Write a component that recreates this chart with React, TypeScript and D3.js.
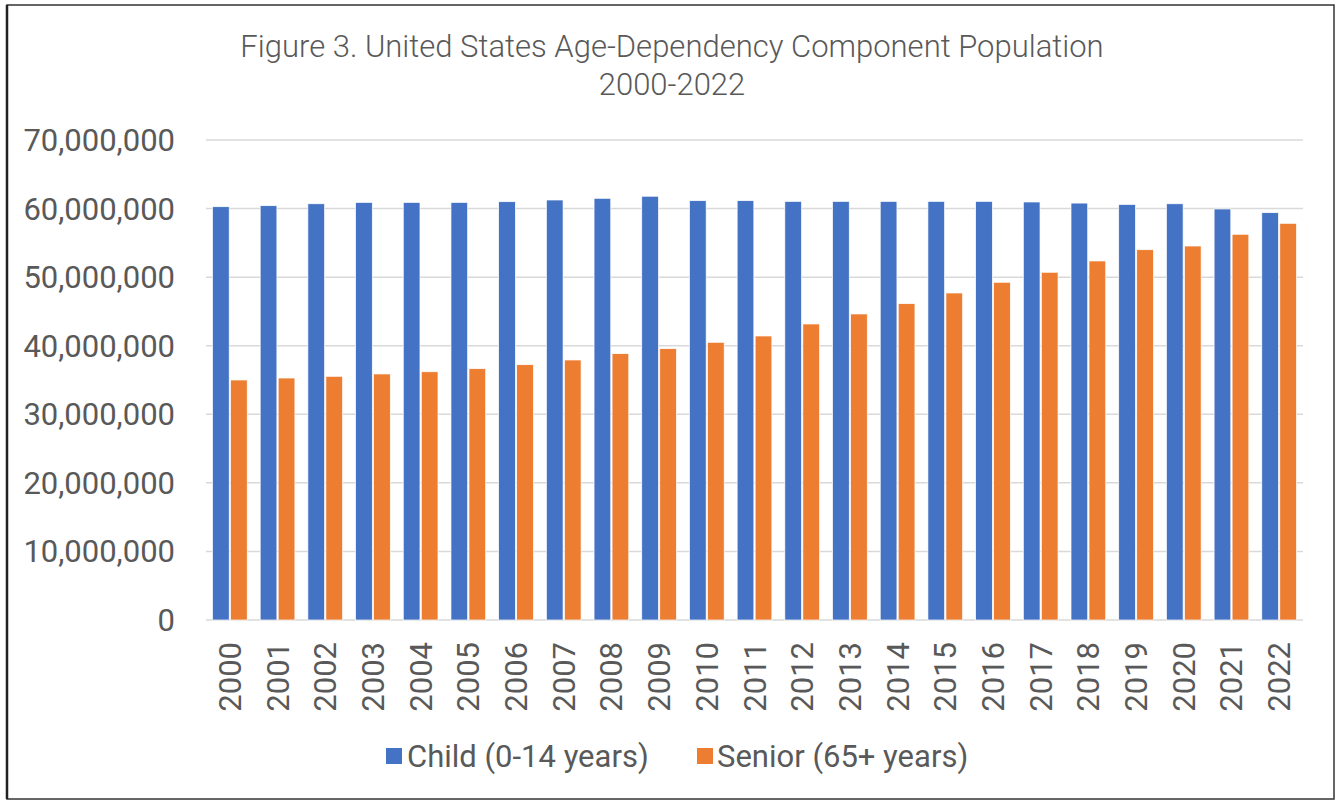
import React from "react";
import * as d3 from "d3";

const years = ["2000","2001","2002","2003","2004","2005","2006","2007","2008","2009","2010","2011","2012","2013","2014","2015","2016","2017","2018","2019","2020","2021","2022"];
const childValues = [60270000,60420000,60700000,60900000,60900000,60900000,61000000,61250000,61500000,61800000,61150000,61150000,61050000,61050000,61050000,61050000,61050000,60960000,60800000,60600000,60700000,59940000,59400000];
const seniorValues = [35000000,35290000,35540000,35880000,36200000,36650000,37230000,37920000,38840000,39570000,40500000,41420000,43170000,44630000,46130000,47690000,49250000,50710000,52360000,54000000,54540000,56250000,57850000];
const yTicks = [0,10000000,20000000,30000000,40000000,50000000,60000000,70000000];
const seriesNames = ["Child (0-14 years)", "Senior (65+ years)"];
const seriesColors = ["#4472C4", "#ED7D31"];
const titleLines = ["Figure 3. United States Age-Dependency Component Population", "2000-2022"];

const W = 1338, H = 801;
const FONT = "Roboto, 'Noto Sans', sans-serif";
const TEXT = "#595959";

export default function App() {
  const x0 = d3.scaleBand<string>().domain(years).range([206, 1303]).paddingInner(0).paddingOuter(0);
  const x1 = d3.scaleBand<string>().domain(["child", "senior"]).range([0, x0.bandwidth()]).paddingInner(0.072).paddingOuter(0.36);
  const y = d3.scaleLinear().domain([0, 70000000]).range([620, 140]);
  const fmt = d3.format(",");
  const series = [childValues, seniorValues];
  const keys = ["child", "senior"];

  return (
    <svg width={W} height={H} style={{ position: "absolute", left: 0, top: 0, background: "#fff" }} fontFamily={FONT}>
      <rect x={0} y={0} width={W} height={H} fill="#fff" />
      <rect x={7} y={5} width={1327} height={794} fill="none" stroke="#333" strokeWidth={1.5} />
      <line x1={7} x2={7} y1={5} y2={799} stroke="#222" strokeWidth={2.5} />
      {titleLines.map((t, i) => (
        <text key={i} x={672} y={57 + i * 38} textAnchor="middle" fontSize={31} fontWeight={300} fill={TEXT}>{t}</text>
      ))}
      {yTicks.map((t) => (
        <g key={t}>
          <line x1={206} x2={1303} y1={y(t)} y2={y(t)} stroke="#D9D9D9" strokeWidth={1.5} />
          <text x={175} y={y(t) + 11} textAnchor="end" fontSize={31} fill={TEXT}>{fmt(t)}</text>
        </g>
      ))}
      {years.map((yr, i) => (
        <g key={yr} transform={`translate(${x0(yr)},0)`}>
          {series.map((vals, s) => (
            <rect key={s} x={x1(keys[s])} y={y(vals[i])} width={x1.bandwidth()} height={y(0) - y(vals[i])} fill={seriesColors[s]} stroke="#fff" strokeWidth={0.7} />
          ))}
        </g>
      ))}
      {years.map((yr) => {
        const cx = (x0(yr) as number) + x0.bandwidth() / 2;
        return (
          <text key={yr} transform={`translate(${cx + 11},642) rotate(-90)`} textAnchor="end" fontSize={31} fill={TEXT}>{yr}</text>
        );
      })}
      <rect x={386} y={748} width={16} height={16} fill={seriesColors[0]} />
      <text x={407} y={767} fontSize={31} fill={TEXT}>{seriesNames[0]}</text>
      <rect x={697} y={748} width={16} height={16} fill={seriesColors[1]} />
      <text x={717} y={767} fontSize={31} fill={TEXT}>{seriesNames[1]}</text>
    </svg>
  );
}
